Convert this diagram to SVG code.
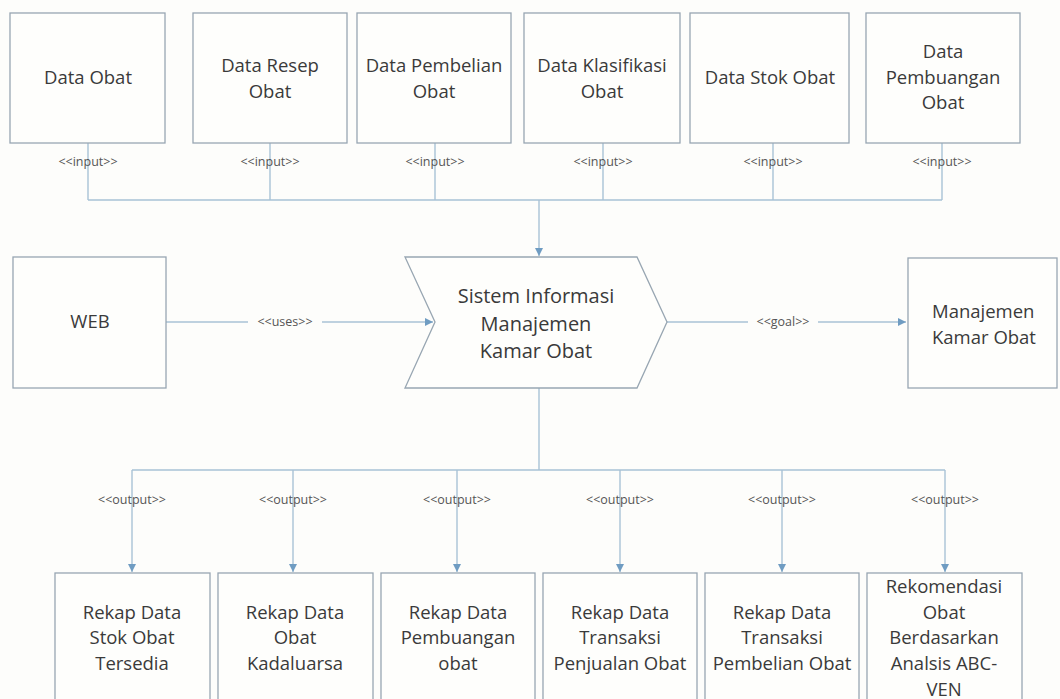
<svg xmlns="http://www.w3.org/2000/svg" width="1060" height="699" viewBox="0 0 1060 699">
<style>
.box{fill:#fefefc;stroke:#98a6b2;stroke-width:1.3}
.t{font-family:"Open Sans","Liberation Sans",sans-serif;font-size:18.5px;fill:#3a3a3a;text-anchor:middle}
.c{font-size:20px}
.lbl{font-family:"Open Sans","Liberation Sans",sans-serif;font-size:12.5px;fill:#555;text-anchor:middle}
.ln{fill:none;stroke:#a8c2d6;stroke-width:1.4}
</style>
<defs>
<marker id="ah" viewBox="0 0 10 10" refX="10" refY="5" markerWidth="8" markerHeight="8" markerUnits="userSpaceOnUse" orient="auto">
<path d="M0,0 L10,5 L0,10 z" fill="#6f9cc2"/>
</marker>
</defs>
<rect width="1060" height="699" fill="#fdfdfb"/>
<g id="connectors">
<path class="ln" d="M88,143 V200 M270,143 V200 M435,143 V200 M603,143 V200 M773,143 V200 M942,143 V200 M88,200 H942"/>
<path class="ln" d="M539,200 V256" marker-end="url(#ah)"/>
<path class="ln" d="M166,322 H433" marker-end="url(#ah)"/>
<path class="ln" d="M667,322 H906" marker-end="url(#ah)"/>
<path class="ln" d="M539,388 V470 M132,470 H945"/>
<path class="ln" d="M132,470 V572" marker-end="url(#ah)"/>
<path class="ln" d="M293,470 V572" marker-end="url(#ah)"/>
<path class="ln" d="M457,470 V572" marker-end="url(#ah)"/>
<path class="ln" d="M620,470 V572" marker-end="url(#ah)"/>
<path class="ln" d="M782,470 V572" marker-end="url(#ah)"/>
<path class="ln" d="M945,470 V572" marker-end="url(#ah)"/>
<g class="lbl">
<text x="88" y="166">&lt;&lt;input&gt;&gt;</text>
<text x="270" y="166">&lt;&lt;input&gt;&gt;</text>
<text x="435" y="166">&lt;&lt;input&gt;&gt;</text>
<text x="603" y="166">&lt;&lt;input&gt;&gt;</text>
<text x="773" y="166">&lt;&lt;input&gt;&gt;</text>
<text x="942" y="166">&lt;&lt;input&gt;&gt;</text>
<rect x="248" y="313" width="74" height="18" fill="#fdfdfb"/>
<text x="285" y="326">&lt;&lt;uses&gt;&gt;</text>
<rect x="748" y="313" width="70" height="18" fill="#fdfdfb"/>
<text x="783" y="326">&lt;&lt;goal&gt;&gt;</text>
<text x="132" y="504">&lt;&lt;output&gt;&gt;</text>
<text x="293" y="504">&lt;&lt;output&gt;&gt;</text>
<text x="457" y="504">&lt;&lt;output&gt;&gt;</text>
<text x="620" y="504">&lt;&lt;output&gt;&gt;</text>
<text x="782" y="504">&lt;&lt;output&gt;&gt;</text>
<text x="945" y="504">&lt;&lt;output&gt;&gt;</text>
</g>
</g>
<g id="n1"><rect class="box" x="10" y="13" width="155" height="130"/><text class="t" x="88" y="84">Data Obat</text></g>
<g id="n2"><rect class="box" x="193" y="13" width="154" height="130"/><text class="t" x="270" y="72">Data Resep</text><text class="t" x="270" y="98">Obat</text></g>
<g id="n3"><rect class="box" x="357" y="13" width="154" height="130"/><text class="t" x="434" y="72">Data Pembelian</text><text class="t" x="434" y="98">Obat</text></g>
<g id="n4"><rect class="box" x="524" y="13" width="156" height="130"/><text class="t" x="602" y="72">Data Klasifikasi</text><text class="t" x="602" y="98">Obat</text></g>
<g id="n5"><rect class="box" x="690" y="13" width="159" height="130"/><text class="t" x="770" y="84">Data Stok Obat</text></g>
<g id="n6"><rect class="box" x="866" y="13" width="154" height="130"/><text class="t" x="943" y="58">Data</text><text class="t" x="943" y="84">Pembuangan</text><text class="t" x="943" y="109">Obat</text></g>
<g id="web"><rect class="box" x="13" y="257" width="153" height="131"/><text class="t" x="90" y="328">WEB</text></g>
<g id="sim"><path class="box" d="M405,257 H637 L667,322 L637,388 H405 L435,322 Z"/>
<text class="t c" x="536" y="303">Sistem Informasi</text><text class="t c" x="536" y="330.5">Manajemen</text><text class="t c" x="536" y="358">Kamar Obat</text></g>
<g id="goal"><rect class="box" x="908" y="258" width="149" height="130"/><text class="t" x="932" y="318" style="text-anchor:start">Manajemen</text><text class="t" x="932" y="344" style="text-anchor:start">Kamar Obat</text></g>
<g id="o1"><rect class="box" x="55" y="573" width="155" height="140"/><text class="t" x="132" y="619">Rekap Data</text><text class="t" x="132" y="644">Stok Obat</text><text class="t" x="132" y="670">Tersedia</text></g>
<g id="o2"><rect class="box" x="218" y="573" width="155" height="140"/><text class="t" x="295" y="619">Rekap Data</text><text class="t" x="295" y="644">Obat</text><text class="t" x="295" y="670">Kadaluarsa</text></g>
<g id="o3"><rect class="box" x="381" y="573" width="154" height="140"/><text class="t" x="458" y="619">Rekap Data</text><text class="t" x="458" y="644">Pembuangan</text><text class="t" x="458" y="670">obat</text></g>
<g id="o4"><rect class="box" x="543" y="573" width="154" height="140"/><text class="t" x="620" y="619">Rekap Data</text><text class="t" x="620" y="644">Transaksi</text><text class="t" x="620" y="670">Penjualan Obat</text></g>
<g id="o5"><rect class="box" x="705" y="573" width="154" height="140"/><text class="t" x="782" y="619">Rekap Data</text><text class="t" x="782" y="644">Transaksi</text><text class="t" x="782" y="670">Pembelian Obat</text></g>
<g id="o6"><rect class="box" x="867" y="573" width="155" height="140"/><text class="t" x="944" y="593">Rekomendasi</text><text class="t" x="944" y="619">Obat</text><text class="t" x="944" y="644">Berdasarkan</text><text class="t" x="944" y="670">Analsis ABC-</text><text class="t" x="944" y="696">VEN</text></g>
</svg>
